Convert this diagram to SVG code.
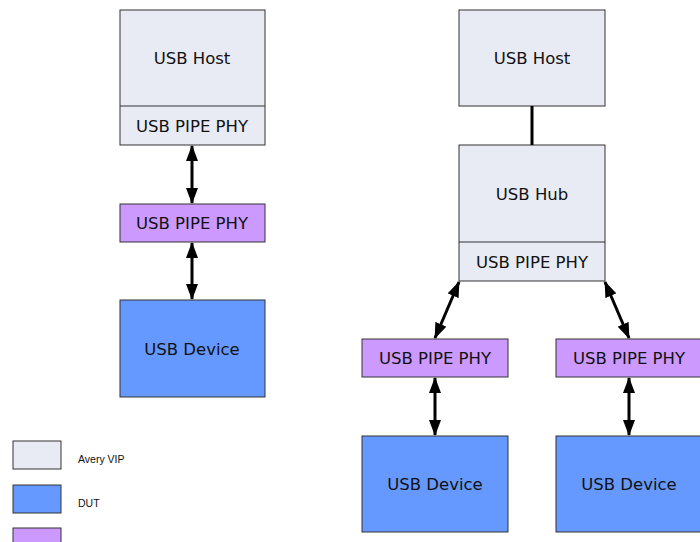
<svg xmlns="http://www.w3.org/2000/svg" width="700" height="542" viewBox="0 0 700 542">
<style>
.box{stroke:#333;stroke-width:1}
.vip{fill:#e8ebf4}
.dut{fill:#6699ff}
.phy{fill:#cc99ff}
.t{font-family:"DejaVu Sans",Verdana,sans-serif;font-size:16.5px;fill:#111;text-anchor:middle;dominant-baseline:central}
.lt{font-family:"Liberation Sans",Arial,sans-serif;font-size:10.5px;fill:#111}
.c{stroke:#000;stroke-width:3;fill:none}
</style>
<defs>
<marker id="ah" viewBox="0 0 16 12" refX="15" refY="6" markerWidth="16" markerHeight="12" markerUnits="userSpaceOnUse" orient="auto-start-reverse">
<path d="M0,0 L16,6 L0,12 z" fill="#000"/>
</marker>
</defs>
<g id="left-host">
<rect class="box vip" x="120" y="10" width="145" height="135"/>
<line class="box" x1="120" y1="106" x2="265" y2="106"/>
<text class="t" x="192" y="58">USB Host</text>
<text class="t" x="192" y="126">USB PIPE PHY</text>
</g>
<g id="left-phy">
<rect class="box phy" x="120" y="204" width="145" height="38"/>
<text class="t" x="192" y="223">USB PIPE PHY</text>
</g>
<g id="left-device">
<rect class="box dut" x="120" y="300" width="145" height="97"/>
<text class="t" x="192" y="349">USB Device</text>
</g>
<g id="right-host">
<rect class="box vip" x="459" y="10" width="146" height="96"/>
<text class="t" x="532" y="58">USB Host</text>
</g>
<g id="hub">
<rect class="box vip" x="459" y="145" width="146" height="136"/>
<line class="box" x1="459" y1="242" x2="605" y2="242"/>
<text class="t" x="532" y="194">USB Hub</text>
<text class="t" x="532" y="262">USB PIPE PHY</text>
</g>
<g id="phy-a">
<rect class="box phy" x="362" y="339" width="146" height="38"/>
<text class="t" x="435" y="358">USB PIPE PHY</text>
</g>
<g id="phy-b">
<rect class="box phy" x="556" y="339" width="146" height="38"/>
<text class="t" x="629" y="358">USB PIPE PHY</text>
</g>
<g id="device-a">
<rect class="box dut" x="362" y="436" width="146" height="96"/>
<text class="t" x="435" y="484">USB Device</text>
</g>
<g id="device-b">
<rect class="box dut" x="556" y="436" width="146" height="96"/>
<text class="t" x="629" y="484">USB Device</text>
</g>
<g id="legend">
<rect class="box vip" x="13" y="441" width="48" height="28"/>
<text class="lt" x="78" y="463">Avery VIP</text>
<rect class="box dut" x="13" y="485" width="48" height="28"/>
<text class="lt" x="78" y="507">DUT</text>
<rect class="box phy" x="13" y="528" width="48" height="28"/>
</g>
<g id="connectors">
<line class="c" x1="192" y1="146" x2="192" y2="203" marker-start="url(#ah)" marker-end="url(#ah)"/>
<line class="c" x1="192" y1="243" x2="192" y2="299" marker-start="url(#ah)" marker-end="url(#ah)"/>
<line class="c" x1="532" y1="106" x2="532" y2="145"/>
<line class="c" x1="459" y1="282" x2="435" y2="338" marker-start="url(#ah)" marker-end="url(#ah)"/>
<line class="c" x1="605" y1="282" x2="629" y2="338" marker-start="url(#ah)" marker-end="url(#ah)"/>
<line class="c" x1="435" y1="378" x2="435" y2="435" marker-start="url(#ah)" marker-end="url(#ah)"/>
<line class="c" x1="629" y1="378" x2="629" y2="435" marker-start="url(#ah)" marker-end="url(#ah)"/>
</g>
</svg>
